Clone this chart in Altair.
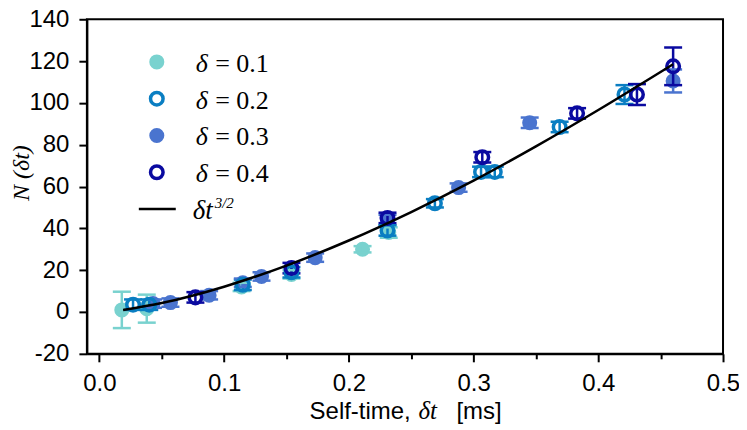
import altair as alt
import pandas as pd

# ---------------- data ----------------
series_labels = ["δ = 0.1", "δ = 0.2", "δ = 0.3", "δ = 0.4"]
series_values = ["= 0.1", "= 0.2", "= 0.3", "= 0.4"]
series_colors = ["#79D2CF", "#0A7EC2", "#4A74CF", "#0A0AA0"]
series_filled = [True, False, True, False]

t_01 = [0.018, 0.038, 0.114, 0.154, 0.211, 0.232]
n_01 = [1.0, 1.6, 12.0, 18.0, 30.0, 38.0]
e_01 = [8.7, 6.7, 2.0, 2.0, 1.5, 2.5]

t_02 = [0.027, 0.040, 0.115, 0.154, 0.231, 0.269, 0.306, 0.317, 0.369, 0.421]
n_02 = [3.5, 3.5, 13.0, 19.0, 39.0, 52.0, 67.0, 67.0, 88.5, 104.0]
e_02 = [2.5, 2.5, 2.5, 2.5, 2.5, 2.0, 2.5, 2.5, 2.5, 4.5]

t_03 = [0.043, 0.057, 0.088, 0.115, 0.130, 0.173, 0.231, 0.288, 0.345, 0.460]
n_03 = [4.0, 4.5, 8.0, 14.0, 17.0, 26.0, 44.0, 59.5, 90.5, 110.5]
e_03 = [2.0, 2.0, 2.0, 2.0, 2.0, 2.0, 2.5, 2.0, 2.5, 5.5]

t_04 = [0.077, 0.154, 0.231, 0.307, 0.383, 0.431, 0.460]
n_04 = [7.0, 21.0, 45.0, 74.0, 95.0, 104.0, 117.5]
e_04 = [2.5, 2.5, 2.5, 2.5, 2.5, 5.0, 9.0]

fit_t = [0.019, 0.05, 0.10, 0.15, 0.20, 0.25, 0.30, 0.35, 0.40, 0.46]
fit_n = [1.0, 4.3, 12.1, 22.2, 34.2, 47.8, 62.8, 79.2, 96.6, 118.5]

x_ticks = [0.0, 0.05, 0.1, 0.15, 0.2, 0.25, 0.3, 0.35, 0.4, 0.45, 0.5]
y_ticks = [-20, -10, 0, 10, 20, 30, 40, 50, 60, 70, 80, 90, 100, 110, 120, 130, 140]

# ---------------- tables ----------------
rows = []
for lab, col, fil, ts, ns, es in zip(series_labels, series_colors, series_filled,
                                     [t_01, t_02, t_03, t_04],
                                     [n_01, n_02, n_03, n_04],
                                     [e_01, e_02, e_03, e_04]):
    for t, n, e in zip(ts, ns, es):
        rows.append({"series": lab, "color": col, "filled": fil,
                     "t": t, "n": n, "lo": n - e, "hi": n + e})
pts = pd.DataFrame(rows)
fit = pd.DataFrame({"t": fit_t, "n": fit_n})

leg = pd.DataFrame({
    "row": [0, 1, 2, 3],
    "d": ["δ"] * 4,
    "val": series_values,
    "color": series_colors,
    "filled": series_filled,
})
leg_line = pd.DataFrame({"row": [4], "d": ["δt"], "sup": ["3/2"]})

SANS = "Liberation Sans"
SERIF = "Liberation Serif"

x_axis = alt.Axis(
    values=x_ticks, title=None, grid=False,
    labelExpr="abs(datum.value*10 - round(datum.value*10)) < 0.001 ? format(datum.value, '.1f') : ''",
    tickSize={"condition": {"test": "abs(datum.value*10 - round(datum.value*10)) < 0.001", "value": 8}, "value": 5},
    labelFont=SANS, labelFontSize=24, labelColor="black", labelPadding=10,
    labelFlush=False, labelOverlap=False,
    domainColor="black", domainWidth=2, tickColor="black", tickWidth=2,
)
y_axis = alt.Axis(
    values=y_ticks, title=None, grid=False,
    labelExpr="datum.value % 20 === 0 ? ('' + datum.value) : ''",
    tickSize={"condition": {"test": "datum.value % 20 === 0", "value": 8}, "value": 5},
    labelFont=SANS, labelFontSize=24, labelColor="black", labelPadding=10,
    labelFlush=False, labelOverlap=False,
    domainColor="black", domainWidth=2, tickColor="black", tickWidth=2,
)

X = alt.X("t:Q", scale=alt.Scale(domain=[-0.01, 0.5], nice=False, zero=False), axis=x_axis)
Y = alt.Y("n:Q", scale=alt.Scale(domain=[-20, 140], nice=False, zero=False), axis=y_axis)
C = alt.Color("color:N", scale=None)

base = alt.Chart(pts)
filled_pts = base.transform_filter("datum.filled").mark_point(
    filled=True, size=227, opacity=1).encode(x=X, y=Y, color=C)
err_rule = base.mark_rule(strokeWidth=2.5).encode(x=X, y=alt.Y("lo:Q"), y2="hi:Q", color=C)
cap_lo = base.mark_tick(orient="horizontal", size=18, thickness=2.5, opacity=1).encode(
    x=X, y=alt.Y("lo:Q"), color=C)
cap_hi = base.mark_tick(orient="horizontal", size=18, thickness=2.5, opacity=1).encode(
    x=X, y=alt.Y("hi:Q"), color=C)
open_pts = base.transform_filter("!datum.filled").mark_point(
    filled=False, size=158, strokeWidth=3.5, opacity=1).encode(x=X, y=Y, color=C)
fit_line = alt.Chart(fit).mark_line(color="black", strokeWidth=2.5, interpolate="monotone").encode(
    x="t:Q", y="n:Q")

main = alt.layer(filled_pts, err_rule, cap_lo, cap_hi, open_pts, fit_line)

# ---------------- legend (inside plot) ----------------
LY = alt.Y("row:Q", scale=alt.Scale(domain=[0, 4], range=[42.7, 190]), axis=None)
lb = alt.Chart(leg)
leg_f = lb.transform_filter("datum.filled").mark_point(filled=True, size=227, opacity=1).encode(
    x=alt.value(70), y=LY, color=C)
leg_o = lb.transform_filter("!datum.filled").mark_point(filled=False, size=158, strokeWidth=3.5, opacity=1).encode(
    x=alt.value(70), y=LY, color=C)
leg_d = lb.mark_text(font=SERIF, fontStyle="italic", fontSize=26, align="left", baseline="alphabetic",
                     dy=10, color="black").encode(x=alt.value(109), y=LY, text="d:N")
leg_v = lb.mark_text(font=SERIF, fontSize=26, align="left", baseline="alphabetic",
                     dy=10, color="black").encode(x=alt.value(128.5), y=LY, text="val:N")
lb2 = alt.Chart(leg_line)
leg_l = lb2.mark_rule(color="black", strokeWidth=2.5).encode(
    x=alt.value(52), x2=alt.value(89), y=LY)
leg_t = lb2.mark_text(font=SERIF, fontStyle="italic", fontSize=27, align="left", baseline="alphabetic",
                      dy=10, color="black").encode(x=alt.value(106), y=LY, text="d:N")
leg_s = lb2.mark_text(font=SERIF, fontStyle="italic", fontSize=15, align="left", baseline="alphabetic",
                      dy=-1, color="black").encode(x=alt.value(128), y=LY, text="sup:N")

# ---------------- axis titles ----------------
xt = pd.DataFrame({"a": ["Self-time,"], "b": ["δt"], "c": ["[ms]"], "yt": ["N (δt)"]})
tb = alt.Chart(xt)
xt_a = tb.mark_text(font=SANS, fontSize=24, align="left", baseline="alphabetic", color="black").encode(
    x=alt.value(223), y=alt.value(400), text="a:N")
xt_b = tb.mark_text(font=SERIF, fontStyle="italic", fontSize=25, align="left", baseline="alphabetic", color="black").encode(
    x=alt.value(332), y=alt.value(400), text="b:N")
xt_c = tb.mark_text(font=SANS, fontSize=24, align="left", baseline="alphabetic", color="black").encode(
    x=alt.value(370), y=alt.value(400), text="c:N")
yt = tb.mark_text(font=SERIF, fontStyle="italic", fontSize=24, align="center", baseline="alphabetic",
                  angle=270, color="black").encode(x=alt.value(-58), y=alt.value(154), text="yt:N")

legend = alt.layer(leg_f, leg_o, leg_d, leg_v, leg_l, leg_t, leg_s, xt_a, xt_b, xt_c, yt)

chart = alt.layer(main, legend).resolve_scale(y="independent", x="independent").properties(
    width=637, height=335,
    autosize=alt.AutoSizeParams(type="none"),
    padding={"left": 79, "top": 11, "right": 16, "bottom": 76},
    background="white",
).configure_view(stroke="black", strokeWidth=2)

chart.save("out.html", embed_options={"renderer": "svg", "actions": False})
